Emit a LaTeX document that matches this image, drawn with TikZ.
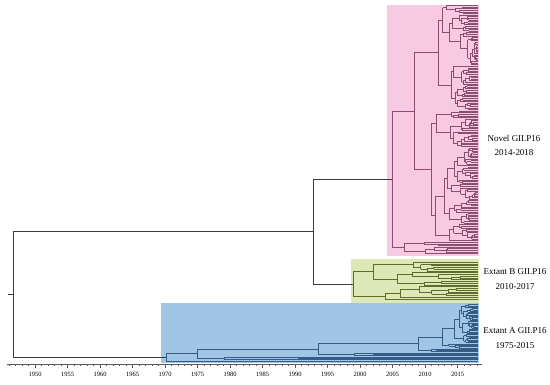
\documentclass[tikz,border=0pt]{standalone}
\usepackage{fontspec}
\setmainfont{Liberation Serif}
\definecolor{pinkbg}{RGB}{247,202,225}
\definecolor{greenbg}{RGB}{222,231,182}
\definecolor{bluebg}{RGB}{161,197,229}
\definecolor{pinkln}{RGB}{140,78,112}
\definecolor{greenln}{RGB}{96,108,42}
\definecolor{blueln}{RGB}{52,92,132}
\definecolor{bbln}{RGB}{60,60,60}
\definecolor{axln}{RGB}{90,90,90}
\def\tipX{478}
\def\fmin{0.06}
\def\fmax{0.42}
% random subtree: #1 parent x, #2 first tip index, #3 number of tips
\newcommand\rsub[3]{%
  \begingroup
  \ifnum#3=1\relax
    \pgfmathsetmacro\yy{\tipYz+\tipDy*#2}%
    \draw[brl] (#1,\yy) -- (\tipX,\yy);%
    \xdef\retY{\yy}%
  \else
    \pgfmathsetmacro\ff{\fmin+(\fmax-\fmin)*rnd}%
    \pgfmathsetmacro\xx{#1+\ff*(\tipX-#1)}%
    \pgfmathtruncatemacro\nn{#3-1}%
    \pgfmathrandominteger{\na}{1}{\nn}%
    \pgfmathtruncatemacro\ib{#2+\na}%
    \pgfmathtruncatemacro\nb{#3-\na}%
    \edef\tmp{\noexpand\rsub{\xx}{#2}{\na}}\tmp\let\ya\retY
    \edef\tmp{\noexpand\rsub{\xx}{\ib}{\nb}}\tmp\let\yb\retY
    \pgfmathsetmacro\yy{(\ya+\yb)/2}%
    \draw[brl] (\xx,\ya) -- (\xx,\yb) (#1,\yy) -- (\xx,\yy);%
    \xdef\retY{\yy}%
  \fi
  \endgroup}
% fixed node: #1 parent x, #2 node x, #3 ya, #4 yb
\newcommand\joinnode[4]{%
  \pgfmathsetmacro\jy{(#3+#4)/2}%
  \draw[brl] (#2,#3) -- (#2,#4) (#1,\jy) -- (#2,\jy);%
  \xdef\retY{\jy}}
\newcommand\onetip[2]{% #1 parent x, #2 tip index
  \pgfmathsetmacro\yy{\tipYz+\tipDy*#2}%
  \draw[brl] (#1,\yy) -- (\tipX,\yy);%
  \xdef\retY{\yy}}
\begin{document}
\begin{tikzpicture}[x=1pt,y=-1pt,
  bb/.style={draw=bbln,line width=0.6pt},
  axis/.style={draw=axln,line width=0.5pt},
  lab/.style={font=\fontsize{9}{14.5}\selectfont,align=center,text=black},
  yrlab/.style={font=\fontsize{6.5}{7}\selectfont,text=black,inner sep=0pt}]
\useasboundingbox[fill=white] (0,0) rectangle (550,384);
\pgfmathsetseed{7}
% clade boxes
\fill[pinkbg] (387,5) rectangle (479,256);
\fill[greenbg] (351,259) rectangle (479,303);
\fill[bluebg] (161,303) rectangle (479,362.5);
% ---------- Novel clade ----------
\def\tipYz{5.5}\def\tipDy{1.6}
\tikzset{brl/.style={draw=pinkln,line width=0.45pt}}
\rsub{414}{0}{66}\let\nUa\retY
\rsub{414}{66}{82}\let\nUb\retY
\joinnode{392}{414}{\nUa}{\nUb}\let\nA\retY
\def\fmin{0.02}\def\fmax{0.3}
\rsub{392}{148}{8}\let\nB\retY
\def\fmin{0.06}\def\fmax{0.42}
\draw[brl] (392,\nA) -- (392,\nB);
\pgfmathsetmacro\nY{(\nA+\nB)/2}
% ---------- Extant B clade ----------
\def\tipYz{262}\def\tipDy{1.75}
\tikzset{brl/.style={draw=greenln,line width=0.45pt}}
\rsub{353}{0}{14}\let\gA\retY
\rsub{353}{14}{8}\let\gB\retY
\draw[brl] (353,\gA) -- (353,\gB);
\pgfmathsetmacro\gY{(\gA+\gB)/2}
% ---------- Extant A clade ----------
\def\tipYz{304.5}\def\tipDy{1.31}
\tikzset{brl/.style={draw=blueln,line width=0.45pt}}
\rsub{442}{0}{30}\let\bFa\retY
\rsub{442}{30}{4}\let\bFb\retY
\joinnode{418}{442}{\bFa}{\bFb}\let\bE\retY
\rsub{418}{34}{3}\let\bEb\retY
\joinnode{318}{418}{\bE}{\bEb}\let\bD\retY
\rsub{318}{37}{3}\let\bDb\retY
\joinnode{197}{318}{\bD}{\bDb}\let\bC\retY
\rsub{197}{40}{3}\let\bCb\retY
\joinnode{166}{197}{\bC}{\bCb}\let\bB\retY
\onetip{166}{43}\let\bBb\retY
\draw[brl] (166,\bB) -- (166,\bBb);
\pgfmathsetmacro\bY{(\bB+\bBb)/2}
% ---------- backbone ----------
\pgfmathsetmacro\uY{(\nY+\gY)/2}
\draw[bb] (313,\nY) -- (313,\gY) (313,\nY) -- (392,\nY) (313,\gY) -- (353,\gY);
\pgfmathsetmacro\rY{(\uY+\bY)/2}
\draw[bb] (13,\uY) -- (13,\bY) (13,\uY) -- (313,\uY) (13,\bY) -- (166,\bY) (8,\rY) -- (13,\rY);
% ---------- time axis ----------
\draw[axis] (7,364) -- (482,364);
\foreach \yr in {1946,...,2018}
  \draw[axis] ({35+6.5*(\yr-1950)},364) -- ++(0,1.5);
\foreach \yr in {1950,1955,...,2015} {
  \draw[axis] ({35+6.5*(\yr-1950)},364) -- ++(0,3.5);
  \node[yrlab] (y\yr) at ({35+6.5*(\yr-1950)},374) {\yr};
}
% ---------- labels ----------
\node[lab] (novel) at (514,145.5) {Novel GII.P16\\2014-2018};
\node[lab] (extb) at (515,279) {Extant B GII.P16\\2010-2017};
\node[lab] (exta) at (515,338) {Extant A GII.P16\\1975-2015};
\end{tikzpicture}
\end{document}
